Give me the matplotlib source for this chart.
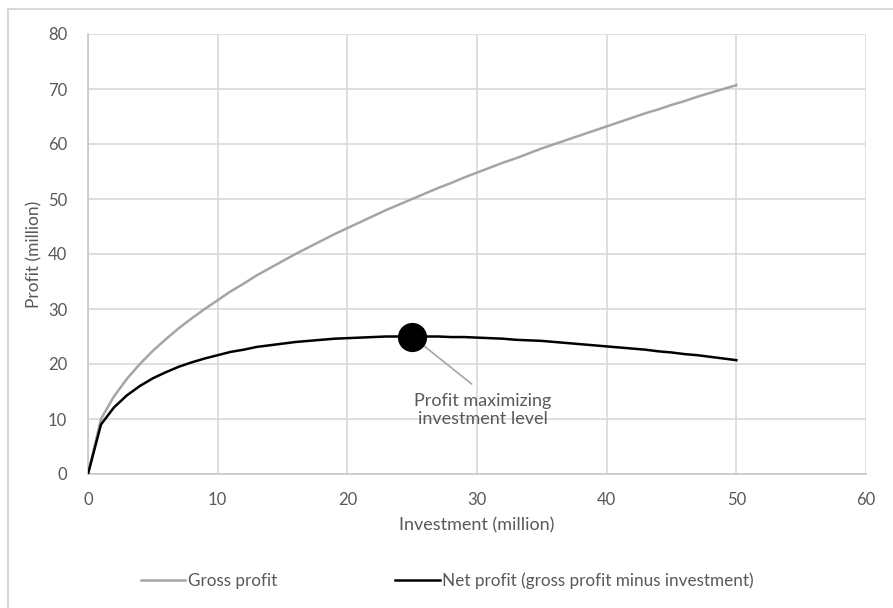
import matplotlib.pyplot as plt
import matplotlib.patches as patches

plt.rcParams['font.family'] = ['Lato', 'DejaVu Sans']

# investment levels (million)
investment = list(range(0, 51))

# gross profit (million)
gross_profit = [0.0, 10.0, 14.1, 17.3, 20.0, 22.4, 24.5, 26.5, 28.3, 30.0,
                31.6, 33.2, 34.6, 36.1, 37.4, 38.7, 40.0, 41.2, 42.4, 43.6,
                44.7, 45.8, 46.9, 48.0, 49.0, 50.0, 51.0, 52.0, 52.9, 53.9,
                54.8, 55.7, 56.6, 57.4, 58.3, 59.2, 60.0, 60.8, 61.6, 62.4,
                63.2, 64.0, 64.8, 65.6, 66.3, 67.1, 67.8, 68.6, 69.3, 70.0,
                70.7]

# net profit (million)
net_profit = [0.0, 9.0, 12.1, 14.3, 16.0, 17.4, 18.5, 19.5, 20.3, 21.0,
              21.6, 22.2, 22.6, 23.1, 23.4, 23.7, 24.0, 24.2, 24.4, 24.6,
              24.7, 24.8, 24.9, 25.0, 25.0, 25.0, 25.0, 25.0, 24.9, 24.9,
              24.8, 24.7, 24.6, 24.4, 24.3, 24.2, 24.0, 23.8, 23.6, 23.4,
              23.2, 23.0, 22.8, 22.6, 22.3, 22.1, 21.8, 21.6, 21.3, 21.0,
              20.7]

# optimum
best_x = 25
best_y = 25.0

TEXT = '#595959'
GRID = '#d9d9d9'

fig = plt.figure(figsize=(8.93, 6.08), dpi=100)
ax = fig.add_axes([88/893, 1 - 474/608, (866-88)/893, (474-34)/608])

# chart frame (open to the right and bottom)
frame = patches.Rectangle((8/893, -0.1), 2.0, (608-9)/608 + 0.1, transform=fig.transFigure,
                          fill=False, edgecolor=GRID, linewidth=1.5)
fig.patches.append(frame)

ax.plot(investment, gross_profit, color='#a5a5a5', linewidth=1.8, label='Gross profit', zorder=3)
ax.plot(investment, net_profit, color='black', linewidth=1.8,
        label='Net profit (gross profit minus investment)', zorder=3)

ax.annotate('Profit maximizing\ninvestment level', xy=(best_x, best_y), xytext=(30.45, 14.75),
            ha='center', va='top', fontsize=13, color=TEXT, linespacing=1.15,
            arrowprops=dict(arrowstyle='-', color='#a5a5a5', linewidth=1.2,
                            relpos=(0.5, 1.0), shrinkA=7, shrinkB=0), zorder=2)
ax.plot([best_x], [best_y], 'o', color='black', markersize=20, zorder=5)

ax.set_xlim(0, 60)
ax.set_ylim(0, 80)
ax.set_xticks(range(0, 61, 10))
ax.set_yticks(range(0, 81, 10))
ax.grid(True, color=GRID, linewidth=1.2)
ax.set_axisbelow(True)
for side in ['top', 'right']:
    ax.spines[side].set_visible(False)
for side in ['left', 'bottom']:
    ax.spines[side].set_color('#c8c8c8')
    ax.spines[side].set_linewidth(1.2)
ax.tick_params(length=0, colors=TEXT, labelsize=12)
ax.tick_params(axis='x', pad=13)
ax.tick_params(axis='y', pad=15)

ax.set_xlabel('Investment (million)', fontsize=13, color=TEXT, labelpad=7)
ax.set_ylabel('Profit (million)', fontsize=12.5, color=TEXT, labelpad=4)

fig.legend(loc='center', bbox_to_anchor=(0.501, 1 - 581/608), ncol=2, frameon=False,
           fontsize=12.3, labelcolor=TEXT, handlelength=2.6, handletextpad=0.15,
           columnspacing=6.9)

fig.savefig('out.png', dpi=100)
